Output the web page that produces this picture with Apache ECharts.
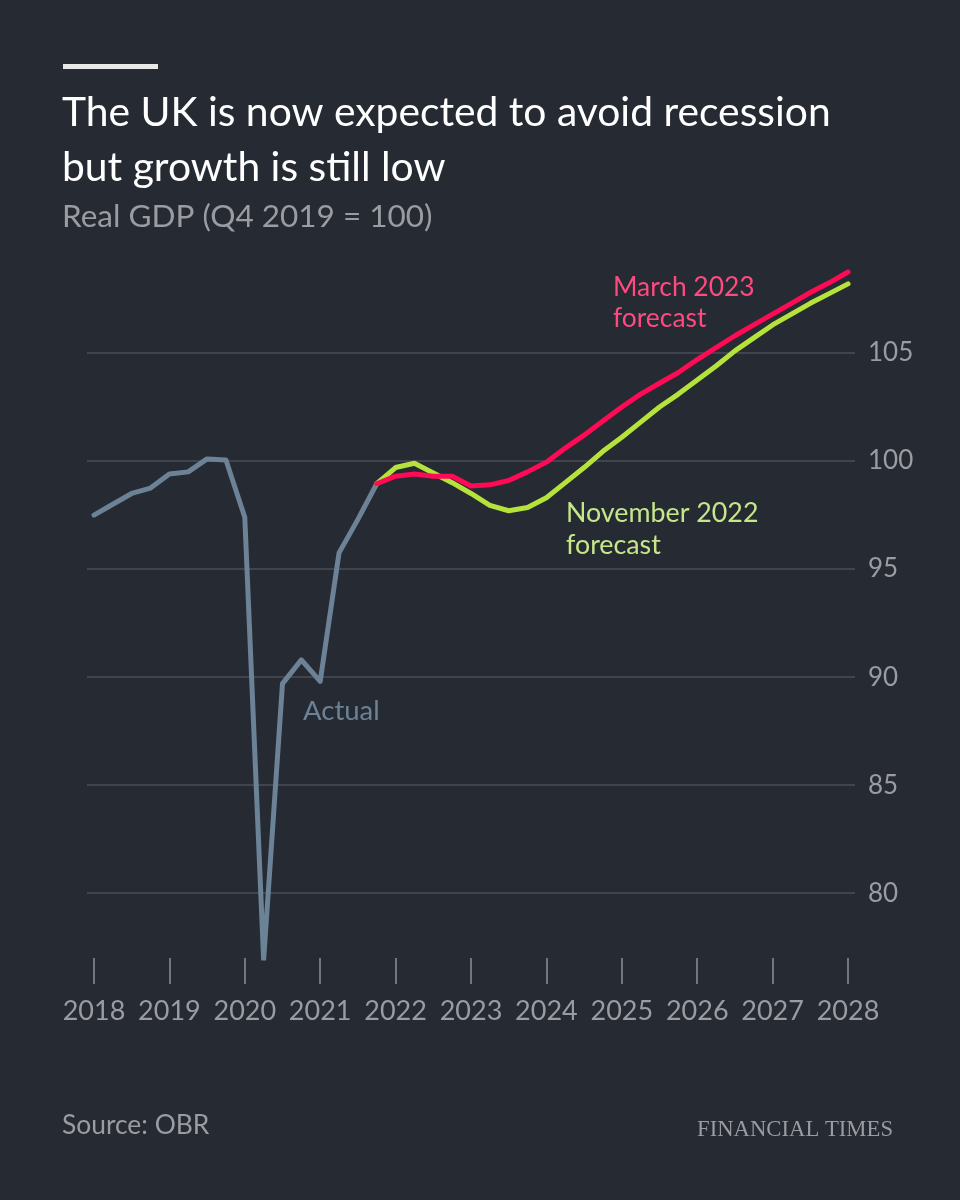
<!DOCTYPE html>
<html>
<head>
<meta charset="utf-8">
<script src="https://cdn.jsdelivr.net/npm/echarts@6/dist/echarts.min.js"></script>
<style>
  html, body { margin: 0; padding: 0; background: #262a33; }
  #chart { width: 960px; height: 1200px; }
</style>
</head>
<body>
<div id="chart"></div>
<script>
// quarterly real GDP, Q4 2019 = 100
const years = ["2018", "2019", "2020", "2021", "2022", "2023", "2024", "2025", "2026", "2027", "2028"];
const yTicks = [80, 85, 90, 95, 100, 105];

// 2018 Q1 .. 2021 Q4
const actual = [97.5, 98.0, 98.5, 98.75, 99.4, 99.5, 100.1, 100.05,
  97.4, 76.9, 89.7, 90.8, 89.8, 95.75, 97.3, 98.95];

// forecasts, 2021 Q4 .. 2028 Q1
const forecastStart = 15;
const november2022 = [98.95, 99.7, 99.9, 99.45, 99.0, 98.5, 97.95, 97.7, 97.85,
  98.3, 99.0, 99.7, 100.45, 101.1, 101.8, 102.5, 103.1,
  103.75, 104.4, 105.1, 105.7, 106.3, 106.8, 107.3, 107.75, 108.2];
const march2023 = [98.95, 99.3, 99.4, 99.3, 99.3, 98.85, 98.9, 99.1, 99.5,
  99.95, 100.6, 101.2, 101.85, 102.5, 103.1, 103.6, 104.1,
  104.7, 105.25, 105.8, 106.3, 106.8, 107.3, 107.8, 108.25, 108.75];

const toPoints = (vals, start) => vals.map((v, i) => [start + i, v]);
const yearTickIdx = years.map((y, i) => i * 4);

const FONT = "Lato, 'Open Sans', sans-serif";
const GREY = "#9a9ca1";

const chart = echarts.init(document.getElementById("chart"));

function line(name, data, color, z) {
  return {
    name, type: "line", data, z,
    symbol: "none", smooth: false,
    lineStyle: { color, width: 5, cap: "round", join: "round" },
    animation: false,
  };
}

function txt(text, x, y, size, fill, extra) {
  return {
    type: "text", x, y, silent: true,
    style: Object.assign({ text, font: `${size}px ${FONT}`, fill, verticalAlign: "middle" }, extra || {}),
  };
}

chart.setOption({
  backgroundColor: "#262a33",
  animation: false,
  grid: { left: 87, right: 105, top: 245, bottom: 242 },
  xAxis: {
    type: "value",
    min: -0.37, max: 40.37,
    axisLine: { show: false },
    axisTick: { show: true, length: 26, customValues: yearTickIdx, lineStyle: { color: "#8e9096", width: 1.5 } },
    axisLabel: {
      customValues: yearTickIdx,
      formatter: (v) => years[Math.round(v / 4)],
      color: GREY, fontSize: 27, fontFamily: FONT, margin: 40,
    },
    splitLine: { show: false },
  },
  yAxis: {
    type: "value",
    position: "right",
    min: 77, max: 110,
    axisLine: { show: false },
    axisTick: { show: false, customValues: yTicks },
    axisLabel: { customValues: yTicks, color: GREY, fontSize: 26, fontFamily: FONT, margin: 13 },
    splitLine: { show: true, lineStyle: { color: "#4b4e56", width: 1.5 } },
  },
  series: [
    line("Actual", toPoints(actual, 0), "#6c8296", 2),
    line("November 2022 forecast", toPoints(november2022, forecastStart), "#b5e23b", 3),
    line("March 2023 forecast", toPoints(march2023, forecastStart), "#ff0a55", 4),
  ],
  graphic: [
    { type: "rect", shape: { x: 63, y: 64, width: 95, height: 5 }, style: { fill: "#e8e8e8" } },
    txt("The UK is now expected to avoid recession", 62, 113, 40.8, "#ffffff"),
    txt("but growth is still low", 62, 168, 40.8, "#ffffff"),
    txt("Real GDP (Q4 2019 = 100)", 62, 217, 31.5, GREY),
    txt("March 2023", 613, 287, 26.4, "#ff4a80"),
    txt("forecast", 613, 318, 26.4, "#ff4a80"),
    txt("November 2022", 566, 513, 26.8, "#c6e68a"),
    txt("forecast", 566, 545, 26.8, "#c6e68a"),
    txt("Actual", 303, 711, 27.5, "#6c8296"),
    txt("Source: OBR", 62, 1125, 26.4, GREY),
    {
      type: "text", x: 893, y: 1130, silent: true,
      style: { text: "FINANCIAL TIMES", font: "22.7px 'Liberation Serif', 'DejaVu Serif', serif", fill: GREY, align: "right", verticalAlign: "middle" },
    },
  ],
});
</script>
</body>
</html>
